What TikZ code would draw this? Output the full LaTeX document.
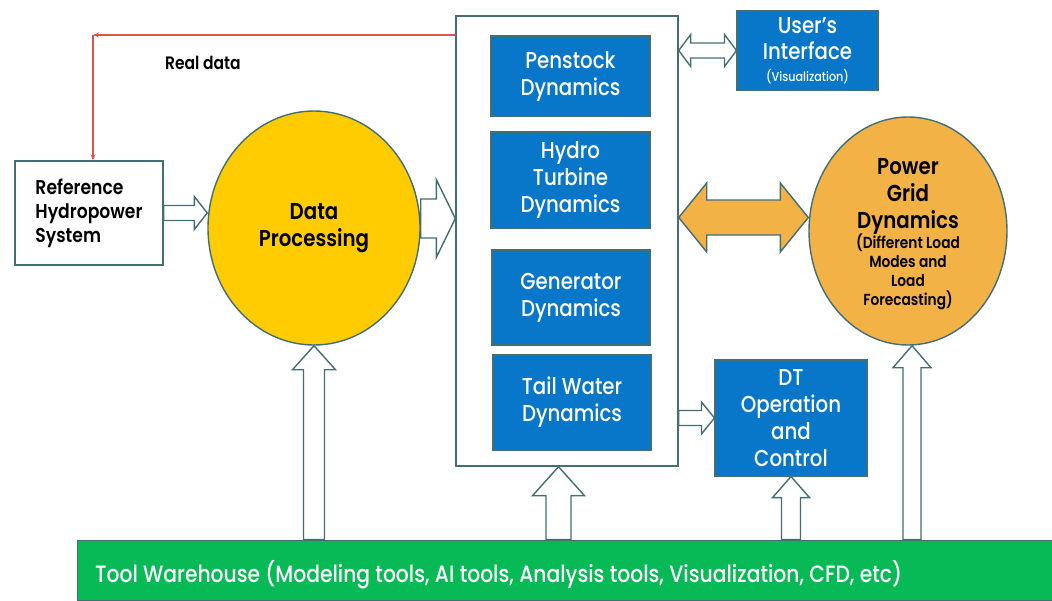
\documentclass[tikz,border=0pt]{standalone}
\usepackage{fontspec}
\setmainfont{Poppins Medium}[FakeStretch=0.86]
\newfontfamily\medfont{Poppins SemiBold}[FakeStretch=0.86]
\usetikzlibrary{calc,arrows.meta,shapes.geometric}

\definecolor{edgegray}{RGB}{66,110,116}
\definecolor{boxblue}{RGB}{8,119,201}
\definecolor{dpyellow}{RGB}{255,204,2}
\definecolor{pgorange}{RGB}{242,178,70}
\definecolor{twgreen}{RGB}{8,186,86}
\definecolor{datared}{RGB}{214,88,76}

% hollow block arrow: options, from, to, shaft half width, head half width, head length
\newcommand\blockarrow[6]{%
  \path[#1] let \p1=#2, \p2=#3,
    \n1={veclen(\x2-\x1,\y2-\y1)}, \n2={atan2(\y2-\y1,\x2-\x1)} in
    [shift={(\p1)}, rotate=\n2]
    (0pt,-#4pt) -- (\n1-#6pt,-#4pt) -- (\n1-#6pt,-#5pt) -- (\n1,0pt)
    -- (\n1-#6pt,#5pt) -- (\n1-#6pt,#4pt) -- (0pt,#4pt) -- cycle;}
% two-headed block arrow
\newcommand\dblockarrow[6]{%
  \path[#1] let \p1=#2, \p2=#3,
    \n1={veclen(\x2-\x1,\y2-\y1)}, \n2={atan2(\y2-\y1,\x2-\x1)} in
    [shift={(\p1)}, rotate=\n2]
    (0pt,0pt) -- (#6pt,-#5pt) -- (#6pt,-#4pt) -- (\n1-#6pt,-#4pt) -- (\n1-#6pt,-#5pt)
    -- (\n1,0pt) -- (\n1-#6pt,#5pt) -- (\n1-#6pt,#4pt) -- (#6pt,#4pt) -- (#6pt,#5pt) -- cycle;}

\tikzset{
  outline/.style={draw=edgegray, line width=1.4pt},
  plainbox/.style={outline, fill=white, rectangle, inner sep=0pt},
  bluebox/.style={draw=edgegray, line width=1.1pt, fill=boxblue, rectangle, inner sep=0pt,
    text=white, align=center, font=\fontsize{23}{27}\selectfont},
  blob/.style={outline, ellipse, inner sep=0pt, align=center, text=black},
  hollow/.style={draw=edgegray, line width=1.4pt, fill=white, line join=miter},
  dataline/.style={draw=datared, line width=1.1pt, -{Stealth[length=6pt,width=5pt]}},
  smalltext/.style={font=\medfont\fontsize{16}{18}\selectfont},
}

\begin{document}
\begin{tikzpicture}[x=1pt,y=-1pt]
\useasboundingbox (0,0) rectangle (1052,600);

% main digital-twin container and its inner blocks
\node[plainbox, minimum width=222pt, minimum height=450pt] (main) at (567,241) {};
\node[bluebox, minimum width=159pt, minimum height=80pt] (pen) at (570.5,76) {Penstock\\Dynamics};
\node[bluebox, minimum width=159pt, minimum height=96pt] (tur) at (570.5,180) {Hydro\\Turbine\\Dynamics};
\node[bluebox, minimum width=158pt, minimum height=95pt] (gen) at (571,297.5) {Generator\\Dynamics};
\node[bluebox, minimum width=158pt, minimum height=95pt] (tail) at (572,402.5) {Tail Water\\Dynamics};

% surrounding blocks
\node[plainbox, minimum width=148pt, minimum height=104pt, align=left,
      font=\medfont\fontsize{20}{24}\selectfont] (ref) at (89,213) {Reference\\Hydropower\\System};
\node[blob, fill=dpyellow, minimum width=212pt, minimum height=234pt,
      font=\medfont\fontsize{23}{27}\selectfont] (dp) at (314,228) {Data\\Processing};
\node[bluebox, minimum width=141pt, minimum height=79pt] (ui) at (807.5,50.5)
  {User's\\[-1pt]Interface\\[-5pt]{\fontsize{13}{15}\selectfont (Visualization)}};
\node[blob, fill=pgorange, minimum width=198pt, minimum height=228pt,
      font=\medfont\fontsize{23}{27}\selectfont] (pg) at (908,231) {};
\node[align=center, inner sep=0pt, font=\medfont\fontsize{23}{27}\selectfont] (pgtext)
  at ([yshift=-3pt]pg.center)
  {Power\\Grid\\Dynamics\\[-7pt]
   {\fontsize{16}{18}\selectfont (Different Load}\\[-8pt]
   {\fontsize{16}{18}\selectfont Modes and}\\[-8pt]
   {\fontsize{16}{18}\selectfont Load}\\[-8pt]
   {\fontsize{16}{18}\selectfont Forecasting)}};
\node[bluebox, minimum width=152pt, minimum height=116pt] (dt) at (791,418)
  {DT\\Operation\\and\\Control};
\node[rectangle, fill=twgreen, draw=edgegray, line width=0.8pt, minimum width=976pt,
      minimum height=60pt, inner sep=0pt] (tw) at (565,570) {};
\node[anchor=base west, text=white, inner sep=0pt, font=\fontsize{23.6}{27}\selectfont]
  (twlabel) at (95,582) {Tool Warehouse (Modeling tools, AI tools, Analysis tools, Visualization, CFD, etc)};

% real-data feedback line
\coordinate (rdcorner) at (93,35);
\draw[dataline] (main.west |- rdcorner) -- (rdcorner);
\draw[dataline] (rdcorner) -- (ref.north -| rdcorner);
\node[anchor=base west, inner sep=0pt, font=\medfont\fontsize{18}{22}\selectfont]
  (rdlabel) at (165,69) {Real data};

% ports where the block arrows meet the shapes
\coordinate (dpout) at ([yshift=9.5pt]dp.east);
\coordinate (pgin) at ([yshift=13.5pt]pg.west);
\coordinate (mainin) at ([xshift=-8.5pt]main.south);
\coordinate (pgfeed) at ([xshift=4pt]pg.south);

% block arrows between components
\blockarrow{hollow}{(ref.east)}{(ref.east -| dp.west)}{7.5}{16.5}{13}
\blockarrow{hollow}{(dpout)}{(dpout -| main.west)}{19.5}{39}{19}
\dblockarrow{hollow}{(main.east |- ui.west)}{(ui.west)}{7.5}{16}{12}
\dblockarrow{hollow, fill=pgorange}{(main.east |- pgin)}{(pgin)}{17.5}{34.5}{28}
\blockarrow{hollow}{(main.east |- dt.west)}{(dt.west)}{7.5}{16}{13}

% tool warehouse feeds
\blockarrow{hollow}{(tw.north -| dp.south)}{(dp.south)}{10.5}{21.5}{24}
\blockarrow{hollow}{(tw.north -| mainin)}{(mainin)}{12.5}{26}{29}
\blockarrow{hollow}{(tw.north -| dt.south)}{(dt.south)}{9.5}{18.5}{21}
\blockarrow{hollow}{(tw.north -| pgfeed)}{(pgfeed)}{9}{19}{22}
\end{tikzpicture}
\end{document}
